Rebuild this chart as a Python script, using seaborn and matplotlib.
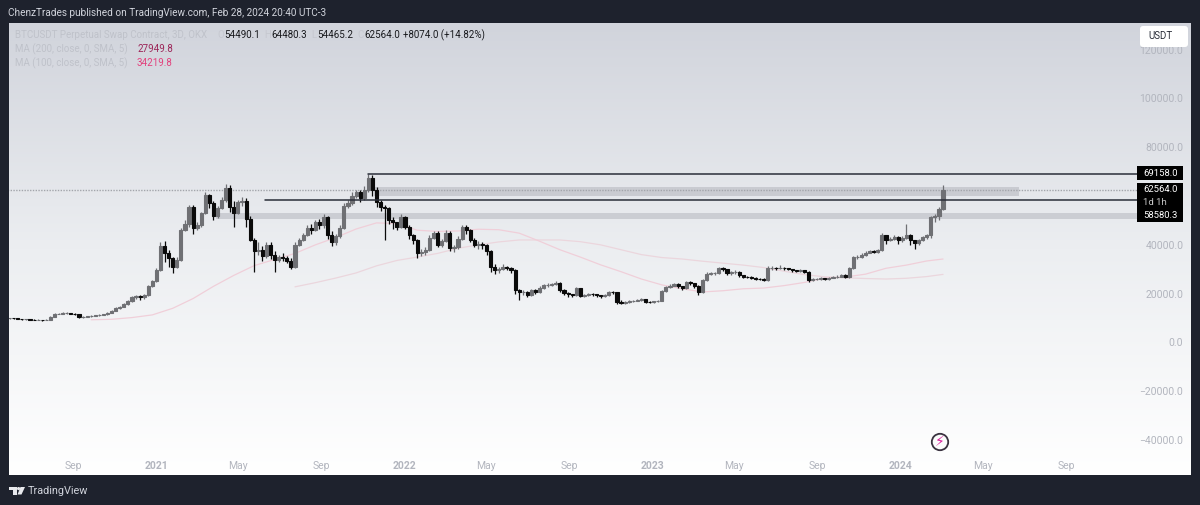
"""
BTCUSDT 3D chart with two moving averages, TradingView look.
Prices are read off the picture, in thousands, one candle per 6 days.
"""

import numpy as np
import pandas as pd
import matplotlib.pyplot as plt
from matplotlib.colors import LinearSegmentedColormap
from matplotlib.patches import Circle, FancyBboxPatch, Polygon, Rectangle
import seaborn as sns

closes = [
    10.0, 9.9, 9.7, 9.5, 9.6, 9.4, 9.3, 9.3, 9.2, 9.3,
    10.6, 11.6, 11.8, 12.0, 12.0, 11.8, 11.5, 10.3, 10.4, 10.8,
    10.9, 11.1, 11.2, 11.5, 12.2, 13.1, 14.0, 14.6, 15.6, 16.8,
    18.5, 19.0, 18.5, 19.5, 23.0, 25.0, 29.7, 39.5, 36.7, 34.5,
    31.0, 33.8, 46.0, 48.5, 55.6, 47.0, 48.0, 53.0, 60.5, 57.0,
    52.0, 55.0, 58.4, 63.3, 55.6, 53.0, 57.6, 58.0, 50.5, 42.0,
    37.5, 38.0, 35.5, 40.0, 36.0, 33.8, 35.0, 34.6, 33.5, 31.0,
    40.0, 42.0, 44.0, 47.0, 46.0, 49.4, 48.0, 51.5, 44.0, 41.0,
    43.5, 47.0, 56.0, 57.0, 60.0, 61.5, 59.0, 62.5, 67.5, 62.5,
    57.6, 55.5, 55.0, 50.0, 49.4, 47.5, 51.5, 47.5, 44.0, 42.0,
    36.7, 37.0, 38.0, 43.0, 45.0, 40.0, 41.5, 45.0, 38.7, 39.0,
    42.5, 47.4, 46.0, 42.0, 40.0, 40.5, 40.0, 37.5, 31.0, 29.7,
    30.0, 31.0, 30.5, 29.7, 21.5, 20.7, 20.8, 19.5, 21.5, 20.7,
    22.5, 23.5, 23.5, 23.8, 24.4, 21.5, 20.3, 19.8, 19.5, 22.3,
    19.0, 19.5, 19.9, 19.7, 19.4, 19.0, 19.5, 20.7, 20.6, 16.6,
    16.3, 16.4, 16.9, 17.0, 17.3, 17.8, 16.7, 16.6, 16.8, 17.0,
    21.0, 22.8, 23.3, 24.0, 23.0, 22.3, 24.8, 24.2, 23.0, 20.7,
    25.6, 28.2, 28.4, 28.5, 30.5, 30.0, 28.3, 28.8, 29.0, 27.5,
    27.0, 26.8, 26.6, 26.2, 26.0, 25.6, 30.5, 30.5, 30.4, 30.6,
    30.5, 30.0, 29.6, 29.3, 29.5, 29.0, 25.5, 26.0, 26.0, 26.3,
    26.0, 26.6, 26.8, 27.0, 27.6, 27.0, 30.5, 35.0, 35.2, 35.9,
    36.8, 37.5, 37.2, 38.0, 44.0, 42.0, 42.5, 43.3, 42.0, 43.0,
    44.0, 42.0, 40.8, 42.0, 43.3, 44.0, 51.5, 51.8, 54.5, 62.6,
]
highs = [
    10.2, 10.1, 10.0, 9.8, 9.8, 9.7, 9.5, 9.5, 9.4, 9.5,
    10.9, 11.9, 12.2, 12.3, 12.3, 12.1, 11.9, 11.6, 10.7, 11.0,
    11.1, 11.3, 11.5, 11.8, 12.5, 13.4, 14.4, 15.0, 16.0, 17.2,
    19.2, 19.5, 19.5, 20.0, 23.6, 25.8, 30.5, 41.0, 41.5, 38.0,
    35.0, 35.0, 47.0, 50.0, 56.5, 56.5, 49.5, 53.5, 61.5, 61.0,
    58.0, 56.0, 59.5, 65.0, 64.5, 58.0, 58.5, 59.5, 59.0, 52.0,
    43.0, 41.0, 39.5, 41.0, 41.0, 37.5, 36.0, 36.5, 35.5, 34.5,
    41.0, 43.0, 45.0, 48.0, 48.5, 50.0, 50.5, 52.5, 52.0, 45.5,
    44.5, 48.0, 57.0, 58.5, 61.5, 62.5, 62.5, 64.0, 69.2, 68.5,
    63.5, 58.5, 56.5, 55.5, 51.5, 49.5, 52.5, 52.0, 48.0, 44.5,
    42.5, 38.5, 39.0, 44.0, 45.5, 45.5, 42.5, 46.0, 45.5, 40.0,
    43.5, 48.2, 48.2, 46.5, 43.0, 41.5, 41.0, 40.5, 38.0, 32.0,
    31.0, 32.0, 31.5, 31.0, 30.0, 22.0, 21.5, 21.0, 22.0, 22.0,
    23.0, 24.0, 24.5, 24.5, 25.0, 24.6, 21.8, 20.5, 20.0, 22.8,
    22.5, 20.0, 20.3, 20.2, 20.0, 19.6, 20.0, 21.0, 21.0, 20.8,
    17.2, 16.9, 17.3, 17.5, 17.7, 18.2, 18.0, 17.0, 17.1, 17.4,
    21.5, 23.2, 23.8, 24.5, 24.3, 23.3, 25.3, 25.2, 24.4, 23.5,
    26.0, 28.8, 29.0, 29.0, 31.0, 31.0, 30.2, 29.3, 29.7, 29.2,
    27.8, 27.3, 27.2, 26.9, 26.5, 26.3, 31.5, 31.3, 31.0, 31.6,
    31.0, 30.7, 30.2, 29.9, 30.0, 29.7, 29.3, 26.5, 26.6, 26.8,
    26.6, 27.0, 27.3, 27.5, 28.2, 27.9, 31.0, 35.6, 36.0, 36.5,
    37.5, 38.0, 38.0, 38.5, 44.7, 44.2, 43.2, 44.0, 43.5, 43.8,
    48.5, 44.5, 42.0, 42.5, 43.8, 44.5, 52.0, 52.8, 55.5, 64.5,
]
lows = [
    9.8, 9.7, 9.5, 9.3, 9.4, 9.2, 9.1, 9.1, 9.0, 9.1,
    9.2, 10.5, 11.5, 11.7, 11.8, 11.6, 11.3, 10.1, 10.1, 10.3,
    10.6, 10.8, 11.0, 11.1, 11.4, 12.0, 12.9, 13.8, 14.4, 15.4,
    16.5, 17.8, 17.6, 18.0, 19.0, 22.8, 24.8, 29.3, 33.0, 31.0,
    28.5, 30.5, 33.5, 45.5, 47.5, 44.5, 46.0, 47.5, 52.5, 55.0,
    50.0, 51.0, 54.5, 57.5, 53.5, 47.5, 52.5, 56.0, 47.5, 41.5,
    29.0, 36.0, 33.5, 34.5, 34.0, 29.0, 33.0, 33.5, 32.5, 30.0,
    30.5, 39.5, 41.5, 43.5, 44.5, 45.5, 46.5, 47.0, 42.5, 39.5,
    40.0, 43.0, 46.5, 55.0, 56.5, 59.0, 57.5, 58.5, 61.5, 60.0,
    55.5, 54.0, 42.0, 48.5, 46.5, 46.0, 47.0, 46.5, 42.5, 40.5,
    34.5, 35.5, 36.0, 37.5, 42.5, 39.0, 39.0, 41.0, 37.5, 37.0,
    38.5, 42.0, 44.5, 41.0, 39.0, 38.5, 38.5, 36.0, 28.8, 28.0,
    28.5, 29.5, 29.5, 28.5, 20.0, 17.6, 19.5, 18.5, 19.0, 20.0,
    20.3, 22.0, 22.8, 23.0, 23.4, 20.8, 19.5, 18.8, 18.5, 19.0,
    18.6, 18.5, 19.0, 19.0, 18.8, 18.4, 18.6, 19.2, 20.0, 15.8,
    15.6, 15.8, 16.2, 16.5, 16.8, 17.0, 16.2, 16.1, 16.3, 16.5,
    16.8, 20.5, 22.5, 23.0, 22.5, 21.5, 22.0, 23.6, 22.4, 19.6,
    20.3, 25.2, 27.8, 27.8, 28.0, 29.3, 27.8, 27.8, 28.2, 26.8,
    26.5, 26.3, 26.0, 25.7, 25.5, 25.0, 25.3, 29.8, 29.8, 30.0,
    29.8, 29.5, 29.0, 28.8, 28.9, 28.4, 24.9, 25.1, 25.5, 25.7,
    25.4, 25.6, 26.3, 26.5, 26.8, 26.4, 26.6, 30.0, 34.0, 34.8,
    35.3, 36.5, 36.5, 36.8, 37.5, 40.5, 41.5, 42.0, 40.5, 41.0,
    42.5, 40.0, 38.5, 39.8, 41.5, 42.5, 42.8, 49.5, 50.0, 54.4,
]

# moving averages, one reading per 5 candles, last one on the last candle
ma100_candles = list(range(20, 226, 5)) + [229]
ma100 = [
    9.3, 9.5, 10.2, 11.3, 14.0, 18.0, 23.0, 27.5, 31.5, 34.0, 36.5, 40.0,
    43.0, 46.5, 49.0, 48.7, 46.0, 45.5, 45.7, 46.4, 46.2, 44.8, 41.5, 38.0,
    35.0, 31.8, 29.0, 26.0, 23.6, 22.0, 20.7, 21.2, 22.0, 22.3, 23.3, 24.6,
    26.4, 26.8, 28.0, 30.4, 31.7, 33.4, 34.2,
]
ma200_candles = list(range(70, 226, 5)) + [229]
ma200 = [
    22.8, 24.5, 26.4, 28.5, 31.4, 33.6, 35.0, 36.5, 38.6, 40.0, 41.2, 42.0,
    42.0, 42.0, 41.3, 40.0, 38.0, 36.0, 34.8, 34.2, 33.3, 32.5, 31.7, 30.7,
    29.2, 27.8, 26.9, 26.5, 26.2, 26.0, 26.3, 27.0, 27.9,
]

y_ticks = [-40000, -20000, 0, 20000, 40000, 60000, 80000, 100000, 120000]
x_tick_dates = ["2020-09-01", "2021-01-01", "2021-05-01", "2021-09-01",
                "2022-01-01", "2022-05-01", "2022-09-01", "2023-01-01",
                "2023-05-01", "2023-09-01", "2024-01-01", "2024-05-01",
                "2024-09-01"]
x_tick_labels = ["Sep", "2021", "May", "Sep", "2022", "May", "Sep", "2023",
                 "May", "Sep", "2024", "May", "Sep"]

DARK = "#1e222d"
FONT = "Roboto"
TICK_GREY = "#b2b5be"


def make_frame():
    dates = pd.date_range("2020-05-30", periods=len(closes), freq="6D")
    df = pd.DataFrame({"date": dates, "close": closes, "high": highs, "low": lows})
    df[["close", "high", "low"]] *= 1000
    df["open"] = df["close"].shift(1).fillna(df["close"])
    return df


def draw_candles(ax, df):
    up = df["close"] >= df["open"]
    colors = np.where(up, "#6f7074", "#0a0a0a")
    ax.vlines(df["date"], df["low"], df["high"], colors=colors, lw=0.9, zorder=4)
    ax.bar(df["date"], (df["close"] - df["open"]).abs(),
           bottom=df[["open", "close"]].min(axis=1), width=4.6,
           color=colors, edgecolor=colors, linewidth=0.8, zorder=5)


def draw_ma(ax, df, candles, values, color):
    ma = pd.DataFrame({"date": df["date"].iloc[candles].values,
                       "value": np.array(values) * 1000})
    sns.lineplot(data=ma, x="date", y="value", color=color, lw=0.9, ax=ax, zorder=3)


def draw_levels(ax):
    ax.fill_between(pd.to_datetime(["2021-11-17", "2024-06-24"]), 60000, 63700,
                    color="#c9cbd1", lw=0, zorder=2)
    ax.fill_between(pd.to_datetime(["2021-03-29", "2024-12-17"]), 50600, 53100,
                    color="#cbcdd3", lw=0, zorder=2)
    ax.plot(pd.to_datetime(["2020-05-01", "2024-12-17"]), [62564, 62564],
            color="#a3a5ab", lw=1, ls=(0, (1, 1)), zorder=2)
    ax.plot(pd.to_datetime(["2021-11-08", "2024-12-17"]), [69158, 69158],
            color="#2a2e39", lw=1.1, zorder=6)
    ax.plot(pd.to_datetime(["2021-06-10", "2024-12-17"]), [58580, 58580],
            color="#2a2e39", lw=1.1, zorder=6)


def draw_overlay(fig):
    # pixel coordinates of the picture, for the TradingView furniture
    ov = fig.add_axes([0, 0, 1, 1], zorder=10)
    ov.set_xlim(0, 1200)
    ov.set_ylim(505, 0)
    ov.axis("off")
    ov.patch.set_alpha(0)

    def label(x, y, s, color, size=7.2, **kw):
        ov.text(x, y, s, color=color, fontsize=size, va="center", family=FONT, **kw)

    label(8, 13, "ChenzTrades published on TradingView.com, Feb 28, 2024 20:40 UTC-3", "#d1d4dc")

    label(15, 35, "BTCUSDT Perpetual Swap Contract, 3D, OKX", "#bfc2ca", size=7)
    for x, s in [(217, "O"), (264, "H"), (311, "L"), (357, "C")]:
        label(x, 35, s, "#c6c8d0", size=7)
    for x, s in [(224, "54490.1"), (271, "64480.3"), (317, "54465.2"),
                 (364, "62564.0"), (403, "+8074.0 (+14.82%)")]:
        label(x, 35, s, "#17181c", size=7)
    label(15, 49, "MA (200, close, 0, SMA, 5)", "#bfc2ca", size=7)
    label(137, 49, "27949.8", "#9c2558", size=7)
    label(15, 63, "MA (100, close, 0, SMA, 5)", "#bfc2ca", size=7)
    label(137, 63, "34219.8", "#e2407c", size=7)

    ov.add_patch(FancyBboxPatch((1142, 28), 44, 17, boxstyle="round,pad=2,rounding_size=3",
                                fc="white", ec="none"))
    label(1148, 36, "USDT", "#2a2e39", size=7)

    ov.add_patch(Rectangle((1137, 166), 46, 14, fc="black", ec="none"))
    ov.add_patch(Rectangle((1137, 183), 46, 39, fc="black", ec="none"))
    for y, s, c in [(173, "69158.0", "white"), (189.5, "62564.0", "white"),
                    (202.5, "1d 1h", "#c8c8c8"), (216, "58580.3", "white")]:
        label(1143, y, s, c, size=6.8)

    ov.add_patch(Circle((940, 442), 8.2, fc="none", ec="#3a3340", lw=1.3))
    ov.text(940, 442, "\u26a1", color="#d81b9a", fontsize=10, ha="center", va="center",
            family="DejaVu Sans")

    # logo
    ov.add_patch(Rectangle((9, 487), 7.5, 3, fc="#e8e9ed", ec="none"))
    ov.add_patch(Rectangle((12.5, 487), 4, 7.5, fc="#e8e9ed", ec="none"))
    ov.add_patch(Circle((18.6, 488.6), 1.6, fc="#e8e9ed", ec="none"))
    ov.add_patch(Polygon([(20.5, 487), (25, 487), (21.5, 494.5), (17.5, 494.5)],
                         fc="#e8e9ed", ec="none"))
    label(28, 491, "TradingView", "#d1d4dc", size=7.8)


if __name__ == "__main__":
    sns.set_theme(style="white")
    plt.rcParams["font.family"] = [FONT, "DejaVu Sans"]

    df = make_frame()
    fig = plt.figure(figsize=(12, 5.05), dpi=100, facecolor=DARK)
    ax = fig.add_axes([9 / 1200, 1 - 475 / 505, 1182 / 1200, 452 / 505])

    grad = LinearSegmentedColormap.from_list("panel", ["#d1d4dc", "#eceef1", "#ffffff"])
    ax.imshow(np.linspace(0, 1, 256).reshape(-1, 1), cmap=grad, extent=[0, 1, 0, 1],
              transform=ax.transAxes, aspect="auto", zorder=0)

    draw_levels(ax)
    draw_ma(ax, df, ma200_candles, ma200, "#ebd6dd")
    draw_ma(ax, df, ma100_candles, ma100, "#f0cfd9")
    draw_candles(ax, df)

    ax.set_xlim(pd.Timestamp("2020-05-29"), pd.Timestamp("2025-03-04"))
    ax.set_ylim(-54300, 130900)
    ax.set_xlabel("")
    ax.set_ylabel("")

    ax.yaxis.tick_right()
    ax.set_yticks(y_ticks)
    ax.set_yticklabels([f"{v:.1f}".replace("-", "\u2212") for v in y_ticks])
    ax.tick_params(axis="y", length=0, pad=-5.5, labelsize=7.5, labelcolor=TICK_GREY)
    for lbl in ax.get_yticklabels():
        lbl.set_ha("right")

    ax.set_xticks(pd.to_datetime(x_tick_dates))
    ax.set_xticklabels(x_tick_labels)
    ax.tick_params(axis="x", length=0, pad=-10, labelsize=7.5, labelcolor=TICK_GREY)
    for lbl in ax.get_xticklabels():
        if lbl.get_text().isdigit():
            lbl.set_fontweight("bold")

    for s in ax.spines.values():
        s.set_visible(False)
    ax.grid(False)

    draw_overlay(fig)

    fig.savefig("out.png", dpi=100, facecolor=DARK)
    plt.close(fig)
